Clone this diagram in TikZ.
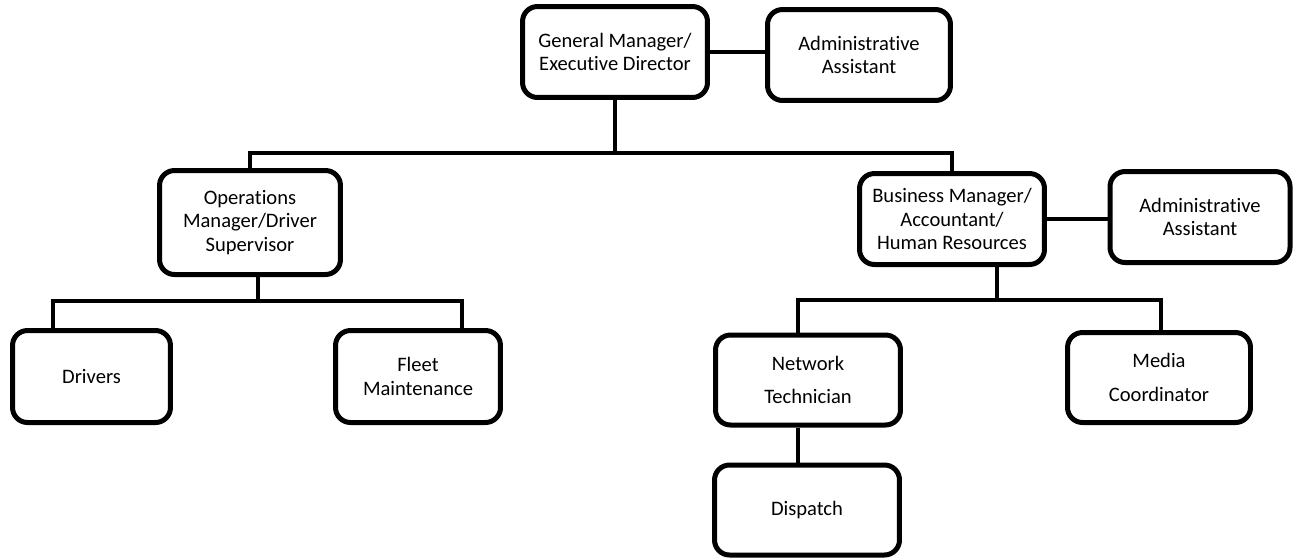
\documentclass[tikz,border=0pt]{standalone}
\usepackage{fontspec}
\setmainfont{Carlito}[Ligatures=NoCommon]
\usepackage{tikz}
\usetikzlibrary{positioning,calc}
\tikzset{
  every node/.append style={font=\fontsize{11.7}{13.2}\selectfont},
}
\tikzset{
  post/.style={draw, rounded corners=3mm, line width=1mm, align=center, fill=white,
               minimum width=37mm, minimum height=18.2mm, inner sep=2pt},
  link/.style={line width=0.8mm}
}

\begin{document}
\begin{tikzpicture}[x=0.02cm, y=-0.02cm]
\useasboundingbox (0,0) rectangle (1301,559);

% Top level
\node[post] (gm) at (615,52) {General Manager/\\Executive Director};
\node[post, minimum width=36.6mm] (admintop) at (859,55) {Administrative\\Assistant};

% Second level
\node[post, minimum width=36.2mm, minimum height=20.8mm] (ops) at (250,222.5) {Operations\\Manager/Driver\\Supervisor};
\node[post] (biz) at (952,219) {Business Manager/\\Accountant/\\Human Resources};
\node[post, minimum width=36mm] (adminbiz) at (1200,217) {Administrative\\Assistant};

% Third level
\node[post, minimum width=31.6mm, minimum height=18.4mm] (drivers) at (91.5,376.5) {Drivers};
\node[post, minimum width=33mm, minimum height=18.4mm] (fleet) at (418,376.5) {Fleet\\Maintenance};
\node[post, minimum height=18mm] (network) at (808,380) {Network\\[2mm]Technician};
\node[post, minimum width=36.6mm, minimum height=18mm] (media) at (1159,377.5) {Media\\[2mm]Coordinator};
\node[post, minimum height=18mm] (dispatch) at (807,510) {Dispatch};

% Side links
\draw[link] (gm.east) -- (gm.east -| admintop.west);
\draw[link] (biz.east) -- (biz.east -| adminbiz.west);

% Top bus
\coordinate (topbus) at (615,153);
\draw[link] (gm.south) -- (topbus);
\draw[link] (ops.north) |- (topbus) -| (biz.north);

% Operations bus
\coordinate (opsbus) at (258,301);
\coordinate (drvdrop) at (53,301);
\coordinate (fltdrop) at (462,301);
\draw[link] (opsbus |- ops.south) -- (opsbus);
\draw[link] (drvdrop |- drivers.north) -- (drvdrop) -- (fltdrop) -- (fltdrop |- fleet.north);

% Business bus
\coordinate (bizbus) at (997,300);
\coordinate (netdrop) at (798,300);
\coordinate (meddrop) at (1161,300);
\draw[link] (bizbus |- biz.south) -- (bizbus);
\draw[link] (netdrop |- network.north) -- (netdrop) -- (meddrop) -- (meddrop |- media.north);
\draw[link] (netdrop |- network.south) -- (netdrop |- dispatch.north);

\end{tikzpicture}
\end{document}
